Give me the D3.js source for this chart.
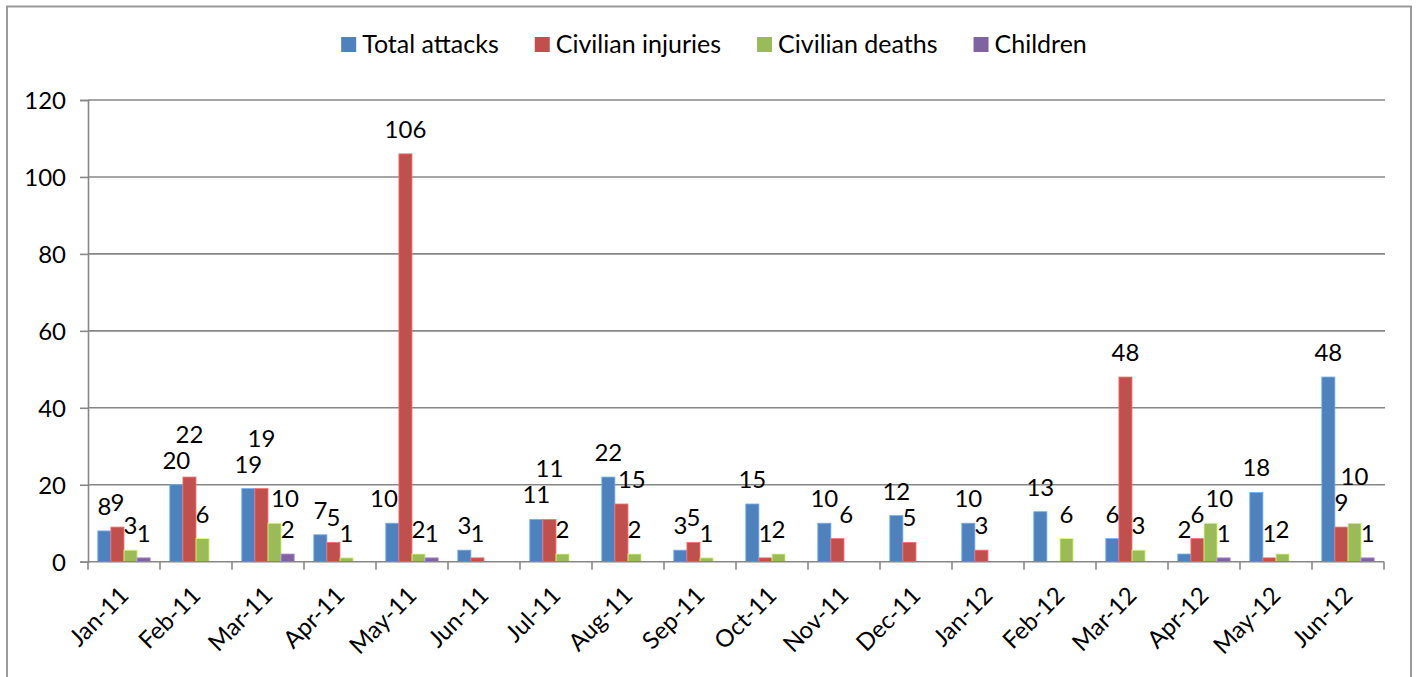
<!DOCTYPE html>
<html>
<head>
<meta charset="utf-8">
<script src="https://cdn.jsdelivr.net/npm/d3@7/dist/d3.min.js"></script>
<style>
  body { margin: 0; background: #fff; }
  text { font-family: Lato, "Open Sans", sans-serif; }
</style>
</head>
<body>
<div id="chart"></div>
<script>
// data
var months = ["Jan-11", "Feb-11", "Mar-11", "Apr-11", "May-11", "Jun-11", "Jul-11", "Aug-11", "Sep-11",
              "Oct-11", "Nov-11", "Dec-11", "Jan-12", "Feb-12", "Mar-12", "Apr-12", "May-12", "Jun-12"];
var seriesNames = ["Total attacks", "Civilian injuries", "Civilian deaths", "Children"];
var totalAttacks     = [8, 20, 19, 7, 10, 3, 11, 22, 3, 15, 10, 12, 10, 13, 6, 2, 18, 48];
var civilianInjuries = [9, 22, 19, 5, 106, 1, 11, 15, 5, 1, 6, 5, 3, 0, 48, 6, 1, 9];
var civilianDeaths   = [3, 6, 10, 1, 2, 0, 2, 2, 1, 2, 0, 0, 0, 6, 3, 10, 2, 10];
var children         = [1, 0, 2, 0, 1, 0, 0, 0, 0, 0, 0, 0, 0, 0, 0, 1, 0, 1];
var yTicks = [0, 20, 40, 60, 80, 100, 120];
var colors = ["#4F81BD", "#C0504D", "#9BBB59", "#8064A2"];

var seriesValues = [totalAttacks, civilianInjuries, civilianDeaths, children];

var W = 1419, H = 677;
var plotLeft = 88, plotRight = 1384, plotTop = 100, plotBottom = 561.7;
var fs = 24;

var svg = d3.select("#chart").append("svg")
    .attr("width", W).attr("height", H);

svg.append("rect").attr("width", W).attr("height", H).attr("fill", "#fff");

// chart frame (bottom edge is off the picture)
svg.append("rect")
    .attr("x", 7).attr("y", 6.5)
    .attr("width", 1404).attr("height", 720)
    .attr("fill", "none").attr("stroke", "#9a9a9a").attr("stroke-width", 2);

var x0 = d3.scaleBand().domain(months).range([plotLeft, plotRight]).padding(0);
var x1 = d3.scaleBand().domain(d3.range(4)).range([0, x0.bandwidth()]).paddingInner(0).paddingOuter(0.75);
var y = d3.scaleLinear().domain([0, 120]).range([plotBottom, plotTop]);

// gridlines
svg.append("g").selectAll("line")
    .data(yTicks.slice(1))
    .enter().append("line")
    .attr("x1", plotLeft).attr("x2", plotRight + 1)
    .attr("y1", function(d) { return y(d); })
    .attr("y2", function(d) { return y(d); })
    .attr("stroke", "#878787").attr("stroke-width", 1.6);

// y axis
var yAxis = svg.append("g")
    .attr("transform", "translate(" + plotLeft + ",0)")
    .call(d3.axisLeft(y).tickValues(yTicks).tickSize(8).tickPadding(14));
yAxis.select(".domain").attr("stroke", "#878787").attr("stroke-width", 1.6);
yAxis.selectAll(".tick line").attr("stroke", "#878787").attr("stroke-width", 1.6);
yAxis.selectAll(".tick text")
    .attr("font-size", fs).attr("font-family", "Lato").attr("fill", "#000").attr("dy", "0.36em");

// bars
var groups = svg.append("g").selectAll("g")
    .data(months)
    .enter().append("g")
    .attr("transform", function(d) { return "translate(" + x0(d) + ",0)"; });

groups.selectAll("rect")
    .data(function(d, i) { return seriesValues.map(function(s, k) { return { k: k, v: s[i] }; }); })
    .enter().append("rect")
    .attr("x", function(d) { return x1(d.k); })
    .attr("y", function(d) { return y(d.v); })
    .attr("width", x1.bandwidth())
    .attr("height", function(d) { return plotBottom - y(d.v); })
    .attr("fill", function(d) { return colors[d.k]; })
    .attr("stroke", function(d) { return d3.color(colors[d.k]).brighter(0.9); })
    .attr("stroke-width", 0.8);

// x axis
var xAxis = svg.append("g")
    .attr("transform", "translate(0," + plotBottom + ")");
xAxis.append("line")
    .attr("x1", plotLeft).attr("x2", plotRight)
    .attr("stroke", "#878787").attr("stroke-width", 1.6);
xAxis.selectAll("line.tk")
    .data(months.concat(["end"]))
    .enter().append("line").attr("class", "tk")
    .attr("x1", function(d, i) { return plotLeft + i * x0.step(); })
    .attr("x2", function(d, i) { return plotLeft + i * x0.step(); })
    .attr("y1", 0).attr("y2", 8)
    .attr("stroke", "#878787").attr("stroke-width", 1.6);
svg.append("g").selectAll("text")
    .data(months)
    .enter().append("text")
    .attr("transform", function(d) {
        return "translate(" + (x0(d) + x0.bandwidth() / 2 + 6) + "," + 597 + ") rotate(-45)";
    })
    .attr("text-anchor", "end")
    .attr("font-size", fs)
    .text(function(d) { return d; });

// data labels: above the bar, nudged when they run into a bar or another label
var labelLayer = svg.append("g");
var capH = 16;
months.forEach(function(m, i) {
    var gx = x0(m);
    var bars = seriesValues.map(function(s, k) {
        return { x0: gx + x1(k), x1: gx + x1(k) + x1.bandwidth(), top: y(s[i]), v: s[i] };
    });
    var placed = [];
    bars.forEach(function(b, k) {
        if (!b.v) return;
        var t = labelLayer.append("text")
            .attr("font-size", fs).attr("text-anchor", "middle")
            .text(b.v);
        var w = t.node().getComputedTextLength() - 2;
        var cx = (b.x0 + b.x1) / 2;
        var base = b.top - 16;
        bars.forEach(function(o, j) {
            if (j === k) return;
            var lx0 = cx - w / 2, lx1 = cx + w / 2;
            if (lx1 > o.x0 + 0.5 && lx0 < o.x1 - 0.5 && base > o.top) {
                if (j < k) cx = o.x1 + 4 + w / 2;
                else cx = o.x0 - 2 - w / 2;
            }
        });
        var moved = true;
        while (moved) {
            moved = false;
            placed.forEach(function(p) {
                var ox = Math.min(cx + w / 2, p.cx + p.w / 2) - Math.max(cx - w / 2, p.cx - p.w / 2);
                var oy = Math.min(base, p.base) - Math.max(base - capH, p.base - capH);
                if (ox > 0 && oy > 6) { base = p.base - capH - 10; moved = true; }
                else if (ox > 0 && oy > -2) { cx += ox + 3; moved = true; } // only grazing: slide right
            });
        }
        placed.push({ cx: cx, w: w, base: base });
        t.attr("x", cx).attr("y", base);
    });
});

// legend
var legend = svg.append("g");
var cursor = 0;
seriesNames.forEach(function(n, k) {
    var g = legend.append("g");
    g.append("rect").attr("width", 15).attr("height", 15).attr("y", -8).attr("fill", colors[k]);
    var t = g.append("text").attr("x", 21).attr("y", 8).attr("font-size", fs + 1).text(n);
    var tw = t.node().getComputedTextLength();
    g.attr("transform", "translate(" + cursor + ",0)");
    cursor += 21 + tw + 36;
});
cursor -= 36;
legend.attr("transform", "translate(" + (714 - cursor / 2) + ",45)");
</script>
</body>
</html>
